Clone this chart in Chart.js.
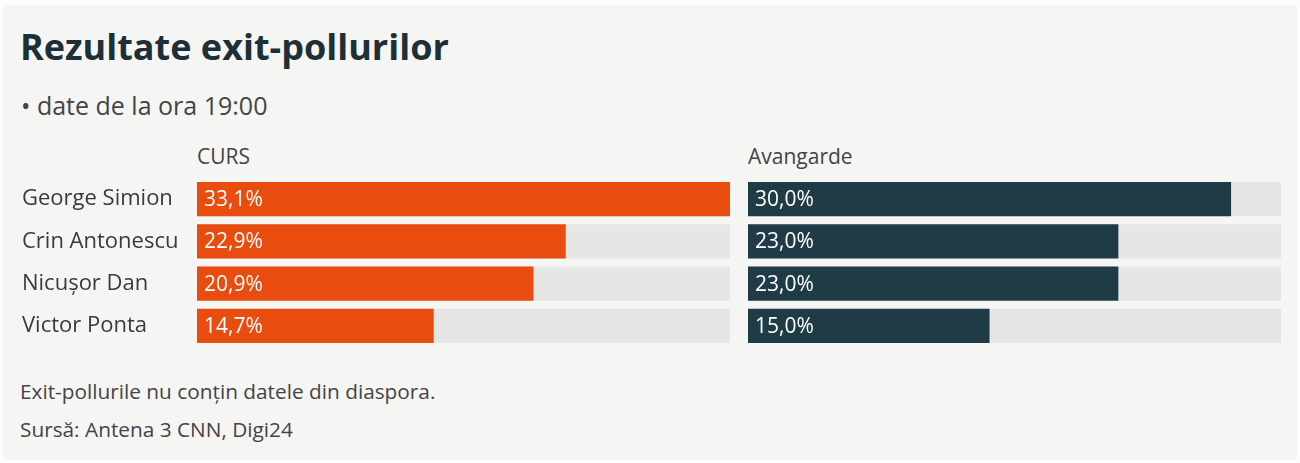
<!DOCTYPE html>
<html>
<head>
<meta charset="utf-8">
<script src="https://cdn.jsdelivr.net/npm/chart.js@4/dist/chart.umd.min.js"></script>
<style>
  html, body { margin:0; padding:0; background:#fdfdfd; }
  body { width:1300px; height:463px; position:relative; overflow:hidden; font-family:"Open Sans", sans-serif; }
  #panel { position:absolute; left:3px; top:5px; width:1294px; height:455px; background:#f5f5f4; }
  .t { position:absolute; white-space:nowrap; line-height:1; color:#3c3c3c; }
  .box { position:absolute; }
</style>
</head>
<body>
<div id="panel"></div>
<div class="t" style="left:20px;top:29px;font-size:36px;font-weight:700;color:#1d2f37;">Rezultate exit-pollurilor</div>
<div class="t" style="left:21px;top:93px;font-size:25px;color:#444;">• date de la ora 19:00</div>
<div class="t" id="h1" style="left:197px;top:146px;font-size:21px;color:#444;"></div>
<div class="t" id="h2" style="left:748px;top:146px;font-size:21px;color:#444;"></div>
<div class="t" style="left:20px;top:381px;font-size:20.8px;color:#444;">Exit-pollurile nu conțin datele din diaspora.</div>
<div class="t" style="left:20px;top:419px;font-size:20.8px;color:#444;">Sursă: Antena 3 CNN, Digi24</div>

<div class="box" style="left:22px;top:178px;width:708px;height:169px;"><canvas id="c1"></canvas></div>
<div class="box" style="left:748px;top:178px;width:533px;height:169px;"><canvas id="c2"></canvas></div>

<script>
// ---- data ----
const candidates = ["George Simion", "Crin Antonescu", "Nicușor Dan", "Victor Ponta"];
const pollsters = ["CURS", "Avangarde"];
const cursValues = [33.1, 22.9, 20.9, 14.7];
const avangardeValues = [30.0, 23.0, 23.0, 15.0];
const scaleMax = 33.1;

document.getElementById('h1').textContent = pollsters[0];
document.getElementById('h2').textContent = pollsters[1];

const fmt = v => v.toFixed(1).replace('.', ',') + '%';

const valueLabels = {
  id: 'valueLabels',
  afterDatasetsDraw(chart) {
    const ctx = chart.ctx;
    const meta = chart.getDatasetMeta(1);
    const vals = chart.data.datasets[1].data;
    ctx.save();
    ctx.fillStyle = '#ffffff';
    ctx.font = '21px "Open Sans", sans-serif';
    ctx.textAlign = 'left';
    ctx.textBaseline = 'middle';
    meta.data.forEach((el, i) => {
      ctx.fillText(fmt(vals[i]), el.base + 7, el.y + 1);
    });
    ctx.restore();
  }
};

function makeChart(id, values, color, showLabels) {
  const yScale = {
    display: showLabels,
    grid: { display: false },
    border: { display: false },
    ticks: {
      color: '#3a3a3a',
      font: { family: '"Open Sans", sans-serif', size: 22 },
      crossAlign: 'far',
      padding: 0
    }
  };
  if (showLabels) {
    yScale.afterFit = function (scale) {
      scale.width = 175;
      scale.paddingTop = 0;
      scale.paddingBottom = 0;
    };
  }
  return new Chart(document.getElementById(id), {
    type: 'bar',
    data: {
      labels: candidates,
      datasets: [
        {
          data: candidates.map(() => scaleMax),
          backgroundColor: '#e6e6e5',
          grouped: false,
          order: 2,
          barPercentage: 0.81,
          categoryPercentage: 1
        },
        {
          data: values,
          backgroundColor: color,
          grouped: false,
          order: 1,
          barPercentage: 0.81,
          categoryPercentage: 1
        }
      ]
    },
    options: {
      indexAxis: 'y',
      responsive: true,
      maintainAspectRatio: false,
      animation: false,
      layout: { padding: 0 },
      plugins: { legend: { display: false }, tooltip: { enabled: false } },
      scales: {
        x: { display: false, min: 0, max: scaleMax },
        y: yScale
      }
    },
    plugins: [valueLabels]
  });
}

makeChart('c1', cursValues, '#e84c0e', true);
makeChart('c2', avangardeValues, '#1f3b46', false);
</script>
</body>
</html>
